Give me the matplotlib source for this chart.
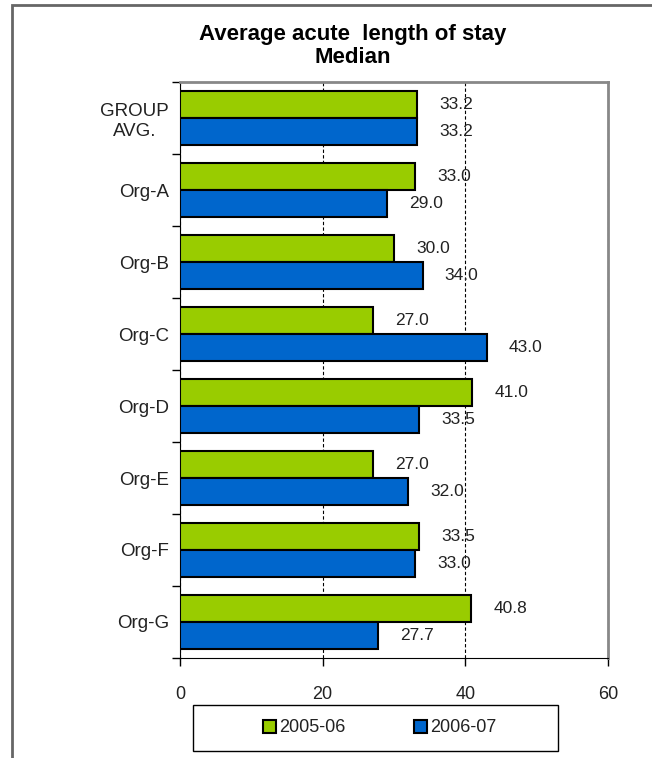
import numpy as np
import matplotlib.pyplot as plt
from matplotlib.patches import Rectangle

plt.rcParams['font.family'] = ['Liberation Sans', 'DejaVu Sans']

# data
categories = ['GROUP\nAVG.', 'Org-A', 'Org-B', 'Org-C', 'Org-D', 'Org-E', 'Org-F', 'Org-G']
vals_0506 = [33.2, 33.0, 30.0, 27.0, 41.0, 27.0, 33.5, 40.8]
vals_0607 = [33.2, 29.0, 34.0, 43.0, 33.5, 32.0, 33.0, 27.7]
series_names = ['2005-06', '2006-07']
x_ticks = [0, 20, 40, 60]

green = '#99CC00'
blue = '#0066CC'

fig = plt.figure(figsize=(6.52, 7.58), dpi=100)
ax = fig.add_axes([180 / 652, 1 - 658 / 758, (608 - 180) / 652, (658 - 82) / 758])

# outer chart frame
fig.patches.append(Rectangle((12 / 652, -0.1), 1.2, 1 - 5 / 758 + 0.1,
                             transform=fig.transFigure, fill=False,
                             edgecolor='#666666', linewidth=2))

y = np.arange(len(categories))
h = 0.373
b1 = ax.barh(y - h / 2, vals_0506, height=h, color=green, edgecolor='black',
             linewidth=1.5, label=series_names[0], zorder=3)
b2 = ax.barh(y + h / 2, vals_0607, height=h, color=blue, edgecolor='black',
             linewidth=1.5, label=series_names[1], zorder=3)

for bars, vals in ((b1, vals_0506), (b2, vals_0607)):
    for bar, v in zip(bars, vals):
        ax.annotate(f'{v:.1f}', xy=(v, bar.get_y() + bar.get_height() / 2),
                    xytext=(16, 0), textcoords='offset points',
                    ha='left', va='center', fontsize=12.5, color='#222222')

ax.set_xlim(0, 60)
ax.set_ylim(len(categories) - 0.5, -0.5)
ax.set_xticks(x_ticks)
ax.set_yticks(np.arange(len(categories) + 1) - 0.5, minor=False)
ax.set_yticklabels([])
ax.set_yticks(y, minor=True)
ax.set_yticklabels(categories, minor=True, fontsize=13.5, color='#222222')
for lbl in ax.get_yticklabels(minor=True):
    lbl.set_multialignment('center')
ax.tick_params(axis='y', which='minor', length=0, pad=8)
ax.tick_params(axis='y', which='major', length=6, direction='out', width=1)
ax.tick_params(axis='x', length=6, direction='out', width=1, pad=14,
               labelsize=13, labelcolor='#222222')

ax.grid(axis='x', linestyle=(0, (3, 2)), color='black', linewidth=0.8, zorder=0)
ax.spines['left'].set_color('black')
ax.spines['bottom'].set_color('black')
ax.spines['top'].set_color('#888888')
ax.spines['right'].set_color('#888888')
ax.spines['top'].set_linewidth(2)
ax.spines['right'].set_linewidth(2)

fig.text(353 / 652, 1 - 46 / 758, 'Average acute  length of stay\nMedian',
         ha='center', va='center', fontsize=16, fontweight='bold',
         linespacing=1.12)

# legend box drawn separately so it can be as wide as in the original
fig.patches.append(Rectangle((193 / 652, 1 - 751 / 758), (558 - 193) / 652,
                             (751 - 705) / 758, transform=fig.transFigure,
                             fill=False, edgecolor='black', linewidth=1))
leg = fig.legend(handles=[b1, b2], labels=series_names, loc='center',
                 bbox_to_anchor=(380 / 652, 1 - 728 / 758), ncol=2,
                 frameon=False, fontsize=13, handlelength=0.7,
                 handleheight=0.7, handletextpad=0.2, columnspacing=3.8)
for t in leg.get_texts():
    t.set_color('#222222')

fig.savefig('out.png', dpi=100)
